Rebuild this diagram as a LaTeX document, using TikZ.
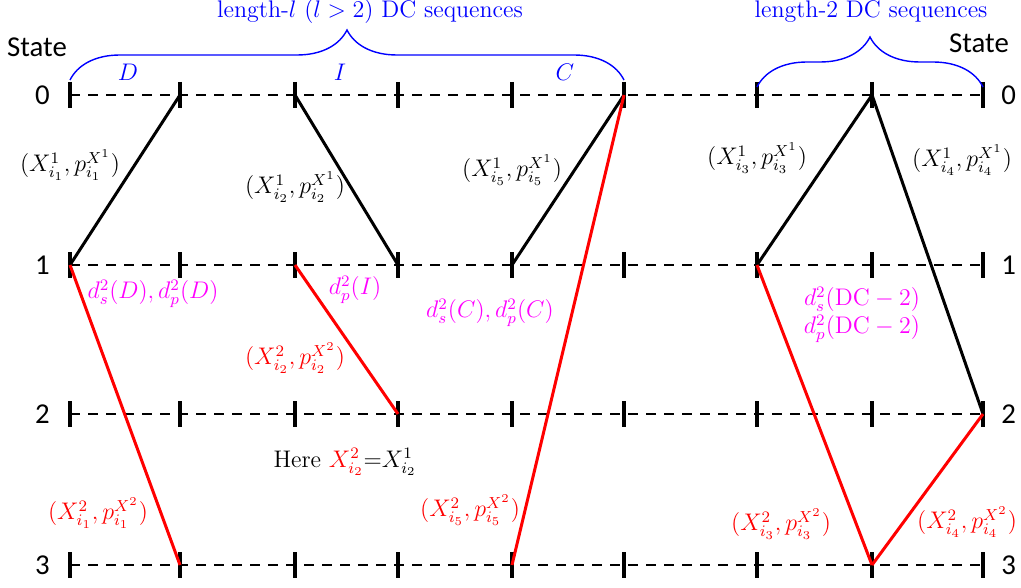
\documentclass[tikz,border=0pt]{standalone}
\usepackage{fontspec}
\newfontfamily\statefont{Carlito}
\usetikzlibrary{positioning,decorations.pathreplacing}
\definecolor{DcsBlue}{HTML}{0000FF}
\definecolor{DcsRed}{HTML}{FF0000}
\definecolor{DcsMagenta}{HTML}{FF00FF}
\tikzset{
  dcsrow/.style={
    draw=black,
    line width=1.1pt,
    dash pattern=on 5pt off 4pt
  },
  dcstick/.style={draw=black,line width=1.6pt},
  dcsfirst/.style={draw=black,line width=1.5pt},
  dcssecond/.style={draw=DcsRed,line width=1.5pt},
  dcsbrace/.style={
    draw=DcsBlue,
    line width=.7pt,
    decorate,
    decoration={brace,amplitude=25pt}
  },
  dcsstate/.style={font=\statefont\Large,inner sep=0pt},
  dcsbracetext/.style={text=DcsBlue,inner sep=1pt},
  dcsfirstlabel/.style={text=black,inner sep=1pt},
  dcssecondlabel/.style={text=DcsRed,inner sep=1pt},
  dcscost/.style={text=DcsMagenta,inner sep=1pt,align=center}
}

\begin{document}
\begin{tikzpicture}[x=.5pt,y=-.5pt,font=\large]
  \useasboundingbox (0,0) rectangle (1021,588);
  % grid points, column / state
  \foreach \col/\xx in {0/70,1/180,2/295,3/398,4/512,5/624,6/757,7/872,8/983}
    \foreach \st/\yy in {0/95,1/265,2/414,3/565}
      \coordinate (p\col-\st) at (\xx,\yy);
  % state rows
  \foreach \st in {0,...,3} {
    \draw[dcsrow] (p0-\st) -- (p8-\st);
    \foreach \col in {0,...,8}
      \draw[dcstick] (p\col-\st) ++(0,-13) -- ++(0,26);
    \node[dcsstate,left=10pt of p0-\st] (lstate\st) {\st};
    \node[dcsstate,right=9pt of p8-\st] (rstate\st) {\st};
  }
  \node[dcsstate] (lhead) at (37,47) {State};
  \node[dcsstate] (rhead) at (979,43) {State};

  % braces
  \draw[dcsbrace] ([yshift=7.5pt]p0-0) -- ([yshift=7.5pt]p5-0);
  \draw[dcsbrace] ([yshift=4pt]p6-0) -- ([yshift=4pt]p8-0);
  \node[dcsbracetext] (longseq) at (370,12) {length-$l$ ($l>2$) DC sequences};
  \node[dcsbracetext] (shortseq) at (871,12) {length-2 DC sequences};
  \node[dcsbracetext] (segD) at (128,72) {$D$};
  \node[dcsbracetext] (segI) at (340,72) {$I$};
  \node[dcsbracetext] (segC) at (565,72) {$C$};

  % first transitions
  \draw[dcsfirst] (p0-1) -- (p1-0);
  \draw[dcsfirst] (p2-0) -- (p3-1);
  \draw[dcsfirst] (p4-1) -- (p5-0);
  \draw[dcsfirst] (p6-1) -- (p7-0);
  \draw[dcsfirst] (p7-0) -- (p8-2);
  % second transitions
  \draw[dcssecond] (p0-1) -- (p1-3);
  \draw[dcssecond] (p2-1) -- (p3-2);
  \draw[dcssecond] (p5-0) -- (p4-3);
  \draw[dcssecond] (p6-1) -- (p7-3);
  \draw[dcssecond] (p7-3) -- (p8-2);

  \node[dcsfirstlabel] (fD) at (70,165) {$(X^1_{i_1},p^{X^1}_{i_1})$};
  \node[dcsfirstlabel] (fI) at (295,187) {$(X^1_{i_2},p^{X^1}_{i_2})$};
  \node[dcsfirstlabel] (fC) at (512,170) {$(X^1_{i_5},p^{X^1}_{i_5})$};
  \node[dcsfirstlabel] (fDCa) at (757,158) {$(X^1_{i_3},p^{X^1}_{i_3})$};
  \node[dcsfirstlabel] (fDCb) at (962,160) {$(X^1_{i_4},p^{X^1}_{i_4})$};

  \node[dcscost] (cD) at (153,294) {$d^2_s(D),d^2_p(D)$};
  \node[dcscost] (cI) at (355,290) {$d^2_p(I)$};
  \node[dcscost] (cC) at (490,313) {$d^2_s(C),d^2_p(C)$};
  \node[dcscost] (cDC) at (862,315) {$d^2_s(\mathrm{DC}-2)$\\$d^2_p(\mathrm{DC}-2)$};

  \node[dcssecondlabel] (sI) at (295,358) {$(X^2_{i_2},p^{X^2}_{i_2})$};
  \node[dcsfirstlabel] (note) at (345,462) {Here {\color{DcsRed}$X^2_{i_2}$}=$X^1_{i_2}$};
  \node[dcssecondlabel] (sD) at (98,513) {$(X^2_{i_1},p^{X^2}_{i_1})$};
  \node[dcssecondlabel] (sC) at (470,510) {$(X^2_{i_5},p^{X^2}_{i_5})$};
  \node[dcssecondlabel] (sDCa) at (781,524) {$(X^2_{i_3},p^{X^2}_{i_3})$};
  \node[dcssecondlabel] (sDCb) at (967,522) {$(X^2_{i_4},p^{X^2}_{i_4})$};
\end{tikzpicture}
\end{document}
